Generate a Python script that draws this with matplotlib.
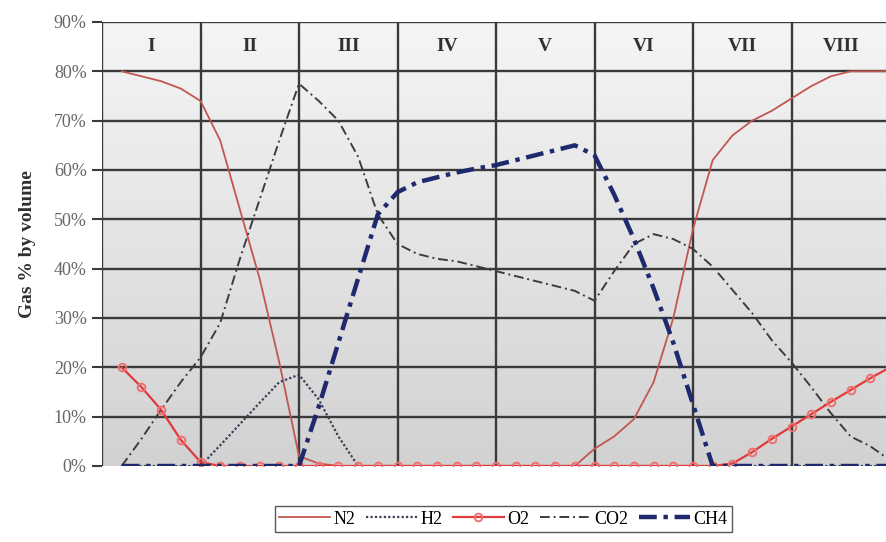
import matplotlib
matplotlib.use('Agg')
import matplotlib.pyplot as plt
from matplotlib.colors import LinearSegmentedColormap
import numpy as np

# sample number (x) and gas concentrations in % by volume
x = np.arange(1, 41)
n2 = [80, 79, 78, 76.5, 74, 66, 52, 38, 21, 2,
      0.5, 0, 0, 0, 0, 0, 0, 0, 0, 0, 0, 0, 0, 0,
      3.5, 6, 9.5, 17, 30, 48, 62, 67, 70, 72, 74.5, 77, 79, 80, 80, 80]
h2 = [0, 0, 0, 0, 0, 4.2, 8.5, 12.8, 17, 18.5, 13.5, 6] + [0] * 28
o2 = [20, 16, 11.4, 5.3, 0.8] + [0] * 26 + [0.5, 2.8, 5.5, 8, 10.5, 13, 15.4, 17.8, 20]
co2 = [0, 5.5, 11.4, 17, 22, 29, 42, 54, 66, 77.5,
       74, 70, 62.7, 51, 45, 43, 42, 41.5, 40.5, 39.5,
       38.5, 37.5, 36.5, 35.5, 33.5, 39.5, 45, 47, 46, 44,
       40.4, 35.7, 31, 25.5, 21, 16, 10.7, 6, 4, 1.2]
ch4 = [0] * 10 + [12, 25, 38, 51, 55.5, 57.5, 58.5, 59.5, 60.3, 61,
                  62, 63, 64, 65, 63, 55, 46, 36, 25, 12.5] + [0] * 10

stages = ['I', 'II', 'III', 'IV', 'V', 'VI', 'VII', 'VIII']

serif = 'Liberation Serif'

fig = plt.figure(figsize=(8.86, 5.42), dpi=100)
ax = fig.add_axes([102 / 886, 76 / 542, 788 / 886, 444 / 542])

# background gradient, light at top to grey at bottom
cmap = LinearSegmentedColormap.from_list('bg', ['#d2d2d2', '#f5f5f5'])
grad = np.linspace(0, 1, 256).reshape(-1, 1)
ax.imshow(grad, extent=[0, 40, 0, 90], aspect='auto', cmap=cmap,
          origin='lower', zorder=0)

ax.set_xlim(0, 40)
ax.set_ylim(0, 90)

# grid
for yv in range(10, 91, 10):
    ax.axhline(yv, color='#3a3a3a', lw=1.7, zorder=1)
for xv in range(0, 41, 5):
    ax.axvline(xv, color='#3a3a3a', lw=1.7, zorder=1)

l_n2, = ax.plot(x, n2, color='#c0584f', lw=1.3, zorder=3)
l_h2, = ax.plot(x, h2, color='#3a3f55', lw=1.6, ls=(0, (1, 1)), zorder=3)
l_o2, = ax.plot(x, o2, color='#e03a3a', lw=1.6, marker='o', ms=5.5,
                mfc='none', mec='#f07070', mew=1.4, zorder=4)
l_co2, = ax.plot(x, co2, color='#3c3c3c', lw=1.4, ls=(0, (5, 2, 1, 2)), zorder=3)
l_ch4, = ax.plot(x, ch4, color='#1f2a6e', lw=3.2, ls=(0, (4, 1.5, 1, 1.5)), zorder=5)

# stage labels in the top band
for i, s in enumerate(stages):
    ax.text(2.5 + 5 * i, 85, s, ha='center', va='center', fontsize=14,
            family=serif, color='#303030', fontweight='bold')

ax.set_xticks([])
ax.set_yticks(range(0, 91, 10))
ax.set_yticklabels(['%d%%' % v for v in range(0, 91, 10)],
                   family=serif, fontsize=13, color='#666666')
ax.tick_params(axis='y', length=7, width=1.5, color='#3a3a3a', pad=4)
for sp in ax.spines.values():
    sp.set_visible(False)

ax.set_ylabel('Gas % by volume', family=serif, fontsize=14,
              fontweight='bold', color='#303030', labelpad=13)

leg = fig.legend([l_n2, l_h2, l_o2, l_co2, l_ch4],
                 ['N2', 'H2', 'O2', 'CO2', 'CH4'],
                 loc='center', bbox_to_anchor=(0.568, 0.042), ncol=5,
                 frameon=True, fancybox=False, edgecolor='#303030',
                 prop={'family': serif, 'size': 13},
                 handlelength=2.8, handletextpad=0.2, columnspacing=0.6,
                 borderpad=0.25)
leg.get_frame().set_linewidth(1.0)

fig.savefig('out.png', dpi=100)
